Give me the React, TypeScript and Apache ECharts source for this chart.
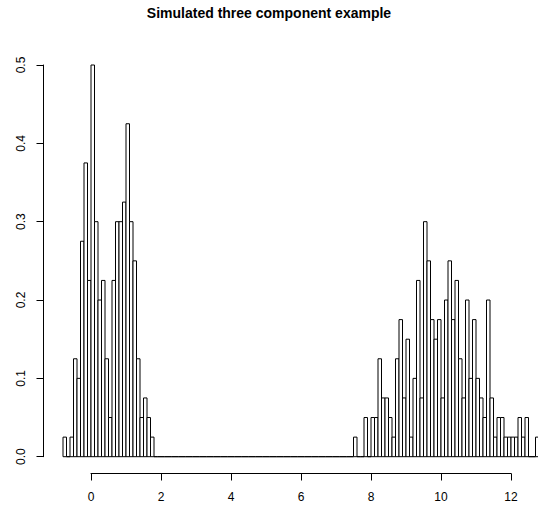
import React, { useEffect, useRef } from "react";
import * as echarts from "echarts";

// Histogram bins: width 0.1, first break at -0.8
const firstBreak = -0.8;
const binWidth = 0.1;

// density of bins from -0.8 to 1.8
const leftDensity = [
  0.025, 0, 0.025, 0.125, 0.1, 0.275, 0.375, 0.225, 0.5, 0.3, 0.2, 0.225, 0.125,
  0.05, 0.225, 0.3, 0.3, 0.325, 0.425, 0.3, 0.25, 0.125, 0.05, 0.075, 0.05, 0.025,
];
// empty bins from 1.8 to 7.5
const emptyDensity = [
  0, 0, 0, 0, 0, 0, 0, 0, 0, 0, 0, 0, 0, 0, 0, 0, 0, 0, 0, 0, 0, 0, 0, 0, 0, 0, 0, 0, 0,
  0, 0, 0, 0, 0, 0, 0, 0, 0, 0, 0, 0, 0, 0, 0, 0, 0, 0, 0, 0, 0, 0, 0, 0, 0, 0, 0, 0,
];
// density of bins from 7.5 to 12.8
const rightDensity = [
  0.025, 0, 0, 0.05, 0, 0.05, 0.05, 0.125, 0.075, 0.075, 0.05, 0.025, 0.125, 0.175,
  0.075, 0.15, 0.025, 0.1, 0.225, 0.075, 0.3, 0.25, 0.175, 0.15, 0.175, 0.075, 0.2,
  0.25, 0.175, 0.225, 0.125, 0.075, 0.2, 0.1, 0.175, 0.1, 0.075, 0.05, 0.2, 0.075,
  0.025, 0.05, 0.05, 0.025, 0.025, 0.025, 0.025, 0.05, 0.025, 0.05, 0, 0, 0.025,
];

const xTicks = { min: 0, max: 12, interval: 2 };
const yTicks = { min: 0, max: 0.5, interval: 0.1 };
const titleText = "Simulated three component example";

const FONT = "'Liberation Sans', Arial, sans-serif";

export default function App() {
  const ref = useRef<HTMLDivElement>(null);

  useEffect(() => {
    if (!ref.current) return;
    const chart = echarts.init(ref.current, undefined, { renderer: "svg" });
    const densities = [...leftDensity, ...emptyDensity, ...rightDensity];
    const data = densities.map((d, i) => {
      const x0 = +(firstBreak + i * binWidth).toFixed(4);
      const x1 = +(firstBreak + (i + 1) * binWidth).toFixed(4);
      return [x0, x1, d];
    });

    chart.setOption({
      animation: false,
      backgroundColor: "#ffffff",
      title: {
        text: titleText,
        left: "center",
        top: 1,
        textStyle: {
          fontFamily: FONT,
          fontWeight: "bold",
          fontSize: 14,
          color: "#000",
        },
      },
      grid: {
        left: 91,
        right: 27,
        top: 65,
        bottom: 53.3,
        containLabel: false,
        outerBoundsMode: "none",
      },
      xAxis: {
        type: "value",
        min: xTicks.min,
        max: xTicks.max,
        interval: xTicks.interval,
        offset: 16.8,
        axisLine: { show: true, onZero: false, lineStyle: { color: "#000", width: 1 } },
        axisTick: { show: true, length: 7, lineStyle: { color: "#000", width: 1 } },
        axisLabel: {
          color: "#000",
          fontFamily: FONT,
          fontSize: 12,
          margin: 17,
        },
        splitLine: { show: false },
      },
      yAxis: {
        type: "value",
        min: yTicks.min,
        max: yTicks.max,
        interval: yTicks.interval,
        offset: 47.5,
        axisLine: { show: true, onZero: false, lineStyle: { color: "#000", width: 1 } },
        axisTick: { show: true, length: 7, lineStyle: { color: "#000", width: 1 } },
        axisLabel: {
          color: "#000",
          fontFamily: FONT,
          fontSize: 12,
          rotate: 90,
          margin: 17,
          formatter: (v: number) => v.toFixed(1),
        },
        splitLine: { show: false },
      },
      series: [
        {
          type: "custom",
          clip: false,
          encode: { x: [0, 1], y: 2 },
          data,
          renderItem: (params: any, api: any) => {
            const x0 = api.value(0);
            const x1 = api.value(1);
            const h = api.value(2);
            const pTop = api.coord([x0, h]);
            const pBot = api.coord([x1, 0]);
            return {
              type: "rect",
              shape: {
                x: pTop[0],
                y: pTop[1],
                width: pBot[0] - pTop[0],
                height: pBot[1] - pTop[1],
              },
              style: { fill: "#ffffff", stroke: "#000000", lineWidth: 1 },
            };
          },
        },
      ],
    });

    return () => chart.dispose();
  }, []);

  return (
    <div
      ref={ref}
      style={{ position: "fixed", left: 0, top: 0, width: 538, height: 510 }}
    />
  );
}
